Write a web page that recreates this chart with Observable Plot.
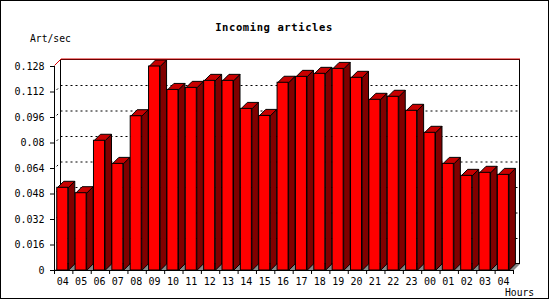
<!DOCTYPE html>
<html><head><meta charset="utf-8">
<script src="https://cdn.jsdelivr.net/npm/d3@7"></script>
<script src="https://cdn.jsdelivr.net/npm/@observablehq/plot@0.6"></script>
<style>
html,body{margin:0;padding:0;background:#fff;}
#wrap{position:relative;width:550px;height:300px;}
#border{position:absolute;left:0;top:0;width:549px;height:299px;border:1px solid #000;box-sizing:border-box;pointer-events:none;}
</style></head><body>
<div id="wrap"><div id="border"></div></div>
<script>
const hours = ["04","05","06","07","08","09","10","11","12","13","14","15","16","17","18","19","20","21","22","23","00","01","02","03","04"];
const values = [0.0519,0.0485,0.0814,0.0669,0.0968,0.1280,0.1133,0.1146,0.1190,0.1190,0.1014,0.0970,0.1178,0.1215,0.1234,0.1265,0.1209,0.1071,0.1090,0.1002,0.0864,0.0669,0.0594,0.0613,0.0600];
const yTicks = [0,0.016,0.032,0.048,0.064,0.08,0.096,0.112,0.128];
const titleText = "Incoming articles";
const yLabelText = "Art/sec";
const xLabelText = "Hours";

const W = 550, H = 300, mL = 54, mR = 37, mT = 66, mB = 30;
const n = hours.length;
const yMax = yTicks[yTicks.length - 1];
const depthPx = 6.5;
const dxU = depthPx * n / (W - mL - mR);
const dyU = depthPx * yMax / (H - mT - mB);
const barL = 0.15, barR = 0.75;

const bars = values.map((v, i) => ({i, v, hour: hours[i], x1: i + barL, x2: i + barR}));
const poly = (id, pts) => pts.map(([x, y]) => ({id, x, y}));
const sideFaces = bars.flatMap(b => poly(b.i, [[b.x2, 0], [b.x2, b.v], [b.x2 + dxU, b.v + dyU], [b.x2 + dxU, dyU], [b.x2, 0]]));
const topFaces = bars.flatMap(b => poly(b.i, [[b.x1, b.v], [b.x2, b.v], [b.x2 + dxU, b.v + dyU], [b.x1 + dxU, b.v + dyU], [b.x1, b.v]]));
const floorPoly = poly(0, [[0, 0], [n, 0], [n + dxU, dyU], [dxU, dyU], [0, 0]]);
const topEdge = poly(0, [[0, yMax], [dxU, yMax + dyU], [n + dxU, yMax + dyU]]);
const inner = yTicks.slice(1, -1);

const chart = Plot.plot({
  width: W, height: H,
  marginLeft: mL, marginRight: mR, marginTop: mT, marginBottom: mB,
  style: {fontFamily: "'DejaVu Sans Mono', monospace", fontSize: "10px", color: "#000", background: "transparent", overflow: "visible"},
  x: {type: "linear", domain: [0, n]},
  y: {type: "linear", domain: [0, yMax]},
  marks: [
    Plot.rect([0], {x1: dxU, x2: n + dxU, y1: dyU, y2: yMax + dyU, fill: "white", stroke: "black"}),
    Plot.ruleY(inner, {y: d => d + dyU, x1: dxU, x2: n + dxU, stroke: "black", strokeDasharray: "2,3"}),
    Plot.link(inner, {x1: 0, y1: d => d, x2: dxU, y2: d => d + dyU, stroke: "black", strokeDasharray: "0,3,2,20"}),
    Plot.line(floorPoly, {x: "x", y: "y", fill: "#888", stroke: "none"}),
    Plot.line(sideFaces, {x: "x", y: "y", z: "id", fill: "#800000", stroke: "black", strokeWidth: 1, strokeLinejoin: "miter", strokeLinecap: "butt"}),
    Plot.line(topFaces, {x: "x", y: "y", z: "id", fill: "#c80000", stroke: "black", strokeWidth: 1, strokeLinejoin: "miter", strokeLinecap: "butt"}),
    Plot.rect(bars, {x1: "x1", x2: "x2", y1: 0, y2: "v", fill: "#ff0000", stroke: "black"}),
    Plot.ruleX([0], {y1: 0, y2: yMax, stroke: "black"}),
    Plot.ruleY([0], {x1: 0, x2: n, stroke: "black"}),
    Plot.line(topEdge, {x: "x", y: "y", stroke: "#dd0000", strokeWidth: 1, dy: -1, strokeLinecap: "butt"}),
    Plot.axisY(yTicks, {tickSize: 4, tickPadding: 6, tickFormat: d => String(+d.toFixed(3)), label: null}),
    Plot.axisX(d3.range(n + 1), {tickSize: 4, tickFormat: () => "", label: null}),
    Plot.text(bars, {x: d => d.i + (barL + barR) / 2, y: 0, dy: 11, text: "hour"})
  ]
});

const svg = d3.select(chart);
svg.append("text").attr("x", 274).attr("y", 31).attr("text-anchor", "middle")
  .attr("font-weight", "bold").attr("font-size", "10.5px").attr("letter-spacing", "0.6px")
  .attr("font-family", "'DejaVu Sans Mono', monospace").attr("fill", "#000").text(titleText);
svg.append("text").attr("x", 30).attr("y", 42).attr("text-anchor", "start")
  .attr("font-size", "9.7px").attr("font-family", "'DejaVu Sans Mono', monospace").attr("fill", "#000").text(yLabelText);
svg.append("text").attr("x", 505).attr("y", 296).attr("text-anchor", "start")
  .attr("font-size", "9.7px").attr("font-family", "'DejaVu Sans Mono', monospace").attr("fill", "#000").text(xLabelText);

document.getElementById("wrap").appendChild(chart);
</script>
</body></html>
